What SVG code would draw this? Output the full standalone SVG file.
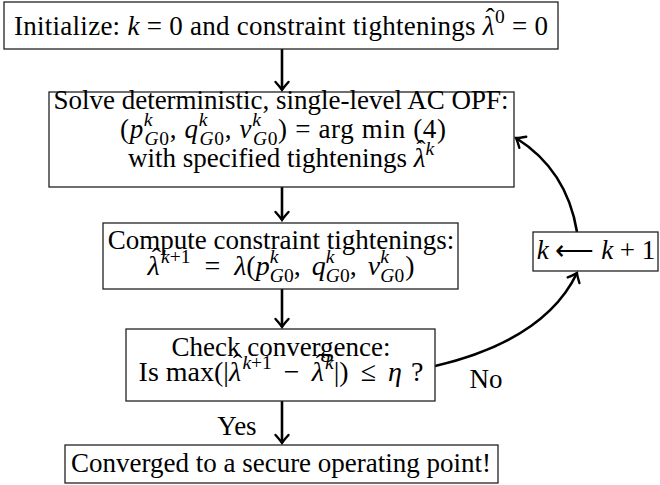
<svg xmlns="http://www.w3.org/2000/svg" width="660" height="485" viewBox="0 0 660 485">
<defs>
<style>
text{font-family:"Liberation Serif","Times New Roman",serif;font-size:27px;fill:#000;text-anchor:middle}
.m{font-size:28px}
.box{fill:#fff;stroke:#222;stroke-width:1.3}
.i{font-style:italic}
.s{font-size:19.5px}
.arr{fill:none;stroke:#000;stroke-width:2.6;marker-end:url(#ah)}
</style>
<marker id="ah" markerUnits="userSpaceOnUse" markerWidth="20" markerHeight="20" viewBox="-10 -10 20 20" refX="0" refY="0" orient="auto">
<path d="M-8,-6.5 Q-2.5,-1.5 0,0 Q-2.5,1.5 -8,6.5" fill="none" stroke="#000" stroke-width="2.4" stroke-linecap="round"/>
</marker>
</defs>
<g id="connectors">
<line class="arr" x1="282" y1="49" x2="282" y2="90"/>
<line class="arr" x1="282" y1="187" x2="282" y2="220"/>
<line class="arr" x1="282" y1="289" x2="282" y2="327"/>
<line class="arr" x1="282" y1="401" x2="282" y2="443"/>
<path class="arr" d="M435,366 Q545,340 577,273"/>
<path class="arr" d="M577,232 Q567,170 516,138"/>
<text x="237" y="435">Yes</text>
<text x="486" y="388">No</text>
</g>
<g id="init">
<rect class="box" x="4" y="2" width="554" height="47"/>
<text x="281" y="35" textLength="534">Initialize: <tspan class="i">k</tspan> = 0 and constraint tightenings <tspan class="i">λ</tspan><tspan dx="-9" dy="-8">ˆ</tspan><tspan class="s" dy="-4">0</tspan><tspan dy="12"> = 0</tspan></text>
</g>
<g id="solve">
<rect class="box" x="49" y="92" width="465" height="95"/>
<text x="281" y="109">Solve deterministic, single-level AC OPF:</text>
<text x="283" y="138" textLength="326">(<tspan class="i">p</tspan><tspan class="s i" dy="-12">k</tspan><tspan class="s" dx="-8.5" dy="19"><tspan class="i">G</tspan>0</tspan><tspan dy="-7">, </tspan><tspan class="i">q</tspan><tspan class="s i" dy="-12">k</tspan><tspan class="s" dx="-8.5" dy="19"><tspan class="i">G</tspan>0</tspan><tspan dy="-7">, </tspan><tspan class="i">v</tspan><tspan class="s i" dy="-12">k</tspan><tspan class="s" dx="-8.5" dy="19"><tspan class="i">G</tspan>0</tspan><tspan dy="-7">) = arg min  (4)</tspan></text>
<text x="281" y="167">with specified tightenings <tspan class="i">λ</tspan><tspan dx="-9" dy="-8">ˆ</tspan><tspan class="s i" dy="-4">k</tspan></text>
</g>
<g id="compute">
<rect class="box" x="103" y="223" width="355" height="66"/>
<text x="281" y="249">Compute constraint tightenings:</text>
<text class="m" x="281" y="275"><tspan class="i">λ</tspan><tspan dx="-8" dy="-8">ˆ</tspan><tspan class="s" dy="-4"><tspan class="i">k</tspan>+1</tspan><tspan dy="12" dx="7"> = </tspan><tspan class="i" dx="7">λ</tspan>(<tspan class="i">p</tspan><tspan class="s i" dy="-12">k</tspan><tspan class="s" dx="-8.5" dy="19"><tspan class="i">G</tspan>0</tspan><tspan dy="-7">, </tspan><tspan class="i" dx="4">q</tspan><tspan class="s i" dy="-12">k</tspan><tspan class="s" dx="-8.5" dy="19"><tspan class="i">G</tspan>0</tspan><tspan dy="-7">, </tspan><tspan class="i" dx="4">v</tspan><tspan class="s i" dy="-12">k</tspan><tspan class="s" dx="-8.5" dy="19"><tspan class="i">G</tspan>0</tspan><tspan dy="-7" dx="1">)</tspan></text>
</g>
<g id="check">
<rect class="box" x="126" y="329" width="309" height="72"/>
<text x="281" y="356">Check convergence:</text>
<text class="m" x="281" y="381">Is max(|<tspan class="i">λ</tspan><tspan dx="-8" dy="-8">ˆ</tspan><tspan class="s" dy="-4"><tspan class="i">k</tspan>+1</tspan><tspan dy="12" dx="5"> − </tspan><tspan class="i" dx="5">λ</tspan><tspan dx="-8" dy="-8">ˆ</tspan><tspan class="s i" dy="-4">k</tspan><tspan dy="12">|) </tspan><tspan dx="5">≤ </tspan><tspan class="i" dx="5">η</tspan><tspan dx="2"> ?</tspan></text>
</g>
<g id="increment">
<rect class="box" x="533" y="232" width="125" height="39"/>
<text x="596" y="259"><tspan class="i">k</tspan> ⟵ <tspan class="i">k</tspan> + 1</text>
</g>
<g id="converged">
<rect class="box" x="65" y="445" width="433" height="38"/>
<text x="281" y="472">Converged to a secure operating point!</text>
</g>
</svg>
